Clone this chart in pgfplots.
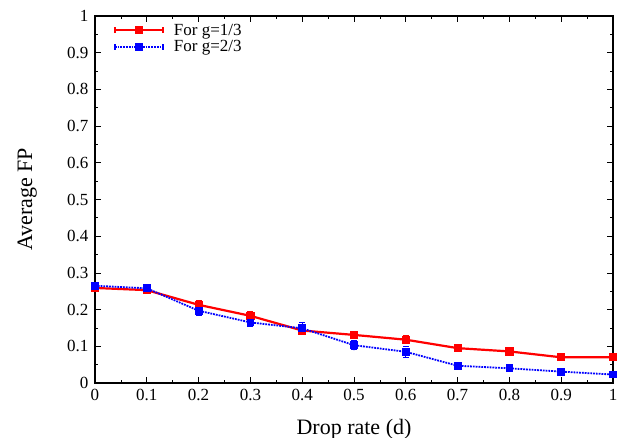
\documentclass[border=0pt]{standalone}
\usepackage{pgfplots}
\pgfplotsset{compat=1.18}
\usepackage{fontspec}
\setmainfont{Liberation Serif}
\begin{document}
\begin{tikzpicture}
\begin{axis}[
  scale only axis,
  width=518pt, height=367pt,
  xmin=0, xmax=1, ymin=0, ymax=1,
  xtick={0,0.1,...,1.01}, ytick={0,0.1,...,1.01},
  xticklabels={0,0.1,0.2,0.3,0.4,0.5,0.6,0.7,0.8,0.9,1},
  yticklabels={0,0.1,0.2,0.3,0.4,0.5,0.6,0.7,0.8,0.9,1},
  minor tick num=1,
  tick align=inside,
  major tick length=6pt, minor tick length=3pt,
  axis line style={line width=1.2pt},
  every tick/.style={black, line width=0.7pt},
  tick label style={font=\fontsize{17}{19}\selectfont},
  xticklabel style={yshift=-3pt},
  yticklabel style={xshift=-3pt},
  xlabel={Drop rate (d)}, ylabel={Average FP},
  every axis x label/.style={at={(axis description cs:0.5,-0.139)}, anchor=base, font=\fontsize{22}{24}\selectfont},
  every axis y label/.style={at={(axis description cs:-0.1216,0.5)}, anchor=base, rotate=90, font=\fontsize{22}{24}\selectfont},
  legend style={draw=none, fill=none, at={(axis description cs:0.03,0.99)}, anchor=north west,
    font=\fontsize{17}{18}\selectfont, row sep=0pt,
    /tikz/every odd column/.append style={column sep=8pt}},
  legend cell align=left,
  legend image code/.code={
    \draw[#1, mark=none] (0pt,0pt) -- (48pt,0pt);
    \draw[#1, solid, mark=none] (0pt,-3pt) -- (0pt,3pt) (48pt,-3pt) -- (48pt,3pt);
    \draw[#1, draw=none] plot coordinates {(24pt,0pt)};
  },
]
\addplot+[red, line width=2.2pt, mark=square*, mark size=3pt, mark options={solid, fill=red},
  error bars/.cd, y dir=both, y explicit, error bar style={line width=1.2pt, solid}, error mark options={rotate=90, mark size=3pt, line width=1.2pt}]
coordinates {
(0,0.259) +- (0,0.008)
(0.1,0.253) +- (0,0.008)
(0.2,0.213) +- (0,0.012)
(0.3,0.183) +- (0,0.012)
(0.4,0.143) +- (0,0.010)
(0.5,0.131) +- (0,0.010)
(0.6,0.118) +- (0,0.010)
(0.7,0.095) +- (0,0.010)
(0.8,0.086) +- (0,0.007)
(0.9,0.070) +- (0,0.004)
(1,0.070) +- (0,0.004)
};
\addlegendentry{For g=1/3}
\addplot+[blue, line width=1.8pt, densely dotted, mark=square*, mark size=3pt, mark options={solid, fill=blue},
  error bars/.cd, y dir=both, y explicit, error bar style={line width=1.2pt, densely dotted}, error mark options={rotate=90, mark size=3pt, line width=1.2pt}]
coordinates {
(0,0.265) +- (0,0.008)
(0.1,0.258) +- (0,0.009)
(0.2,0.197) +- (0,0.012)
(0.3,0.165) +- (0,0.010)
(0.4,0.149) +- (0,0.015)
(0.5,0.103) +- (0,0.012)
(0.6,0.085) +- (0,0.015)
(0.7,0.047) +- (0,0.006)
(0.8,0.040) +- (0,0.004)
(0.9,0.031) +- (0,0.003)
(1,0.023) +- (0,0.003)
};
\addlegendentry{For g=2/3}
\end{axis}
\pgfresetboundingbox
\path (-95pt,-55pt) rectangle (523pt,383pt);
\end{tikzpicture}
\end{document}
